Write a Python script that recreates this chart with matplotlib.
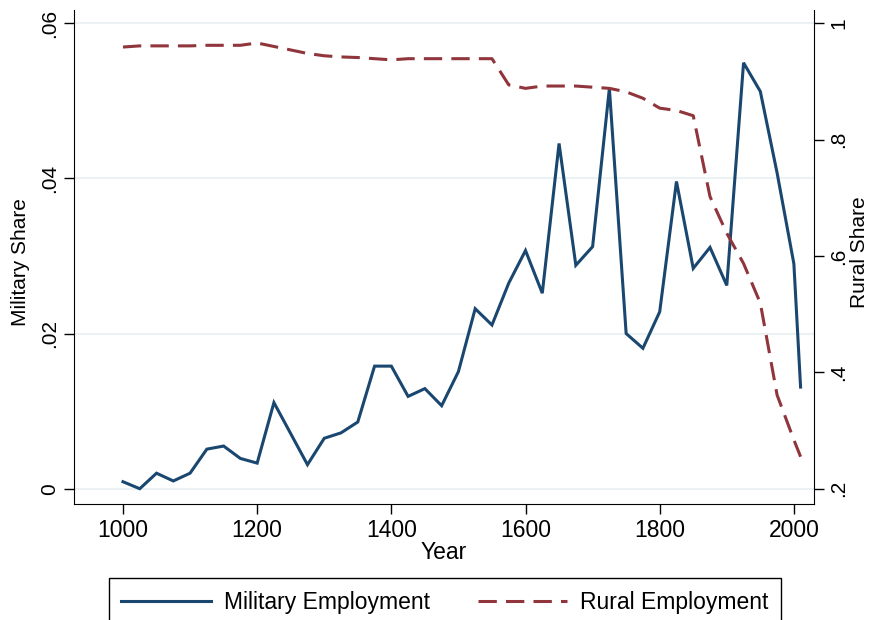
import matplotlib
matplotlib.use("Agg")
import matplotlib.pyplot as plt

plt.rcParams['font.family'] = ['Liberation Sans', 'DejaVu Sans']
plt.rcParams['font.size'] = 15

# Data
years = [1000, 1025, 1050, 1075, 1100, 1125, 1150, 1175, 1200, 1225, 1250, 1275,
         1300, 1325, 1350, 1375, 1400, 1425, 1450, 1475, 1500, 1525, 1550, 1575,
         1600, 1625, 1650, 1675, 1700, 1725, 1750, 1775, 1800, 1825, 1850, 1875,
         1900, 1925, 1950, 1975, 2000, 2010]
military = [0.0009, 0.0000, 0.0020, 0.0010, 0.0020, 0.0051, 0.0055, 0.0039,
            0.0033, 0.0111, 0.0071, 0.0031, 0.0065, 0.0072, 0.0086, 0.0158,
            0.0158, 0.0119, 0.0129, 0.0107, 0.0151, 0.0232, 0.0211, 0.0265,
            0.0307, 0.0252, 0.0445, 0.0288, 0.0312, 0.0516, 0.0200, 0.0181,
            0.0228, 0.0396, 0.0284, 0.0311, 0.0262, 0.0549, 0.0512, 0.0407,
            0.0290, 0.0131]
rural = [0.959, 0.961, 0.961, 0.961, 0.961, 0.962, 0.962, 0.962, 0.966, 0.960,
         0.954, 0.948, 0.944, 0.942, 0.941, 0.939, 0.937, 0.939, 0.939, 0.939,
         0.939, 0.939, 0.939, 0.894, 0.888, 0.892, 0.892, 0.892, 0.890, 0.888,
         0.882, 0.871, 0.854, 0.850, 0.841, 0.702, 0.639, 0.587, 0.519, 0.361,
         0.284, 0.255]

navy = '#1a476f'
maroon = '#90353b'
grid_col = '#eaf2f3'

fig = plt.figure(figsize=(8.71, 6.20), dpi=100)
ax = fig.add_axes([74 / 871, 1 - 504 / 620, (814 - 74) / 871, (504 - 10) / 620])
ax2 = ax.twinx()

l1, = ax.plot(years, military, color=navy, lw=2.2, label='Military Employment',
              solid_joinstyle='miter')
l2, = ax2.plot(years, rural, color=maroon, lw=2.2, ls=(0, (6, 3)),
               label='Rural Employment')

ax.set_xlim(927, 2030)
ax.set_ylim(-0.00197, 0.0617)
ax2.set_ylim(0.2 - 0.00197 / 0.06 * 0.8, 0.2 + 0.0617 / 0.06 * 0.8)

ax.set_xticks([1000, 1200, 1400, 1600, 1800, 2000])
ax.tick_params(axis='x', labelsize=16.5, pad=4)
ax.set_yticks([0, 0.02, 0.04, 0.06])
ax.set_yticklabels(['0', '.02', '.04', '.06'], rotation=90, va='center')
ax2.set_yticks([0.2, 0.4, 0.6, 0.8, 1.0])
ax2.set_yticklabels(['.2', '.4', '.6', '.8', '1'], rotation=90, va='center')

for a in (ax, ax2):
    a.spines['top'].set_visible(False)
    a.tick_params(direction='out', length=7, width=1)
ax.tick_params(axis='y', pad=4)
ax2.tick_params(axis='y', pad=4)
ax.spines['right'].set_visible(False)
ax2.spines['left'].set_visible(False)
ax2.spines['bottom'].set_visible(False)

ax.grid(axis='y', color=grid_col, lw=1.5)
ax.set_axisbelow(True)

ax.set_xlabel('Year', fontsize=16.5, labelpad=-1)
ax.set_ylabel('Military Share')
ax.yaxis.set_label_coords(-44 / 740, 0.49)
ax2.set_ylabel('Rural Share', rotation=90)
ax2.yaxis.set_label_coords(1 + 36 / 740, 0.51)

fig.legend(handles=[l1, l2], loc='upper center', ncol=2,
           bbox_to_anchor=(445 / 871, 1 - 578 / 620), frameon=True,
           fancybox=False, edgecolor='black', handlelength=3.9,
           handletextpad=0.57, columnspacing=2.1, borderpad=0.55,
           borderaxespad=0, framealpha=1, fontsize=16.5)

fig.savefig('out.png', dpi=100)
